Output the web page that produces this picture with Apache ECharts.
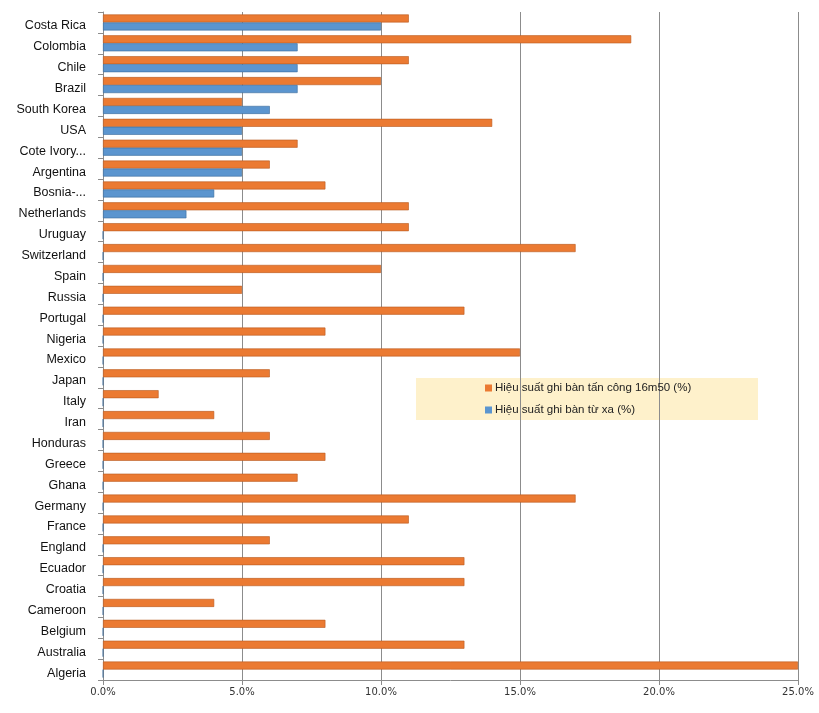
<!DOCTYPE html>
<html>
<head>
<meta charset="utf-8">
<script src="https://cdn.jsdelivr.net/npm/echarts@6/dist/echarts.min.js"></script>
<style>html,body{margin:0;padding:0;background:#fff;}#c{width:819px;height:713px;}</style>
</head>
<body>
<div id="c"></div>
<script>
const categories = ["Costa Rica","Colombia","Chile","Brazil","South Korea","USA","Cote Ivory...","Argentina","Bosnia-...","Netherlands","Uruguay","Switzerland","Spain","Russia","Portugal","Nigeria","Mexico","Japan","Italy","Iran","Honduras","Greece","Ghana","Germany","France","England","Ecuador","Croatia","Cameroon","Belgium","Australia","Algeria"];
const attack16m50 = [11,19,11,10,5,14,7,6,8,11,11,17,10,5,13,8,15,6,2,4,6,8,7,17,11,6,13,13,4,8,13,25];
const longRange = [10,7,7,7,6,5,5,5,4,3,0,0,0,0,0,0,0,0,0,0,0,0,0,0,0,0,0,0,0,0,0,0];
const seriesNames = ["Hiệu suất ghi bàn tấn công 16m50 (%)","Hiệu suất ghi bàn từ xa (%)"];
const xTicks = {min:0,max:25,interval:5};

const chart = echarts.init(document.getElementById('c'), null, {renderer:'canvas'});
chart.setOption({
  animation:false,
  grid:{left:103,right:21,top:12,bottom:33,containLabel:false},
  graphic:[{type:'rect',left:416,top:378,z:-1,shape:{width:342,height:42},style:{fill:'#FEF1CB'}}],
  legend:{
    orient:'vertical',
    left:485, top:382,
    padding:0,
    itemGap:10,
    itemWidth:7,itemHeight:7,
    icon:'rect',
    itemStyle:{borderWidth:0},
    textStyle:{fontFamily:'Liberation Sans, Arial',fontSize:11.5,color:'#222',padding:[0,0,0,-2]},
    data:seriesNames
  },
  xAxis:{
    type:'value',min:xTicks.min,max:xTicks.max,interval:xTicks.interval,
    axisLine:{show:true,lineStyle:{color:'#8c8c8c'}},
    axisTick:{show:true,length:5,lineStyle:{color:'#8c8c8c'}},
    splitLine:{show:true,lineStyle:{color:'#8c8c8c',width:1}},
    axisLabel:{formatter:v=>v.toFixed(1)+'%',fontFamily:'DejaVu Sans',fontSize:10,color:'#333',margin:7}
  },
  yAxis:{
    type:'category',data:categories,inverse:true,
    axisLine:{show:true,lineStyle:{color:'#8c8c8c'}},
    axisTick:{show:true,length:5,lineStyle:{color:'#8c8c8c'}},
    axisLabel:{fontFamily:'Liberation Sans, Arial',fontSize:12.5,color:'#111',margin:17,verticalAlign:'top',lineHeight:7}
  },
  series:[
    {name:seriesNames[0],type:'bar',data:attack16m50,barWidth:8,barGap:'0%',
     itemStyle:{color:'#EB7A32',borderColor:'#B85A20',borderWidth:0.6}},
    {name:seriesNames[1],type:'bar',data:longRange,barWidth:8,barGap:'0%',
     itemStyle:{color:'#5B95CF',borderColor:'#3D6C9C',borderWidth:0.6}}
  ]
});
</script>
</body>
</html>
